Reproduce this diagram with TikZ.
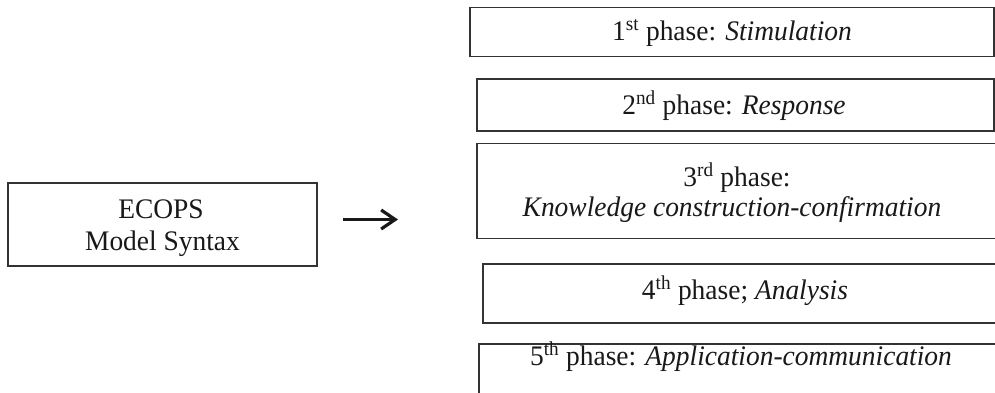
\documentclass[tikz,border=0pt]{standalone}
\usepackage{fontspec}
\setmainfont{Liberation Serif}[FakeStretch=0.97]
\usetikzlibrary{arrows.meta}
\tikzset{
  box/.style={draw=black!80, line width=1.4pt, rectangle, inner sep=0pt, outer sep=0pt},
  lbl/.style={inner sep=0pt, anchor=base, font=\fontsize{28.3}{33}\selectfont, text=black!90},
  arr/.style={line width=3.2pt, black!90, -{Straight Barb[length=14pt,width=19pt,line width=3.2pt]}}
}
\begin{document}
\begin{tikzpicture}[x=1pt,y=-1pt]
\useasboundingbox (0,0) rectangle (995,392);
\clip (0,0) rectangle (995,392);
\fill[white] (0,0) rectangle (995,392);
% boxes
\node[box, minimum width=309, minimum height=83] (ecops) at (162.5,224.5) {};
\node[box, minimum width=524, minimum height=49] (p1) at (732,32) {};
\node[box, minimum width=517, minimum height=52] (p2) at (735.5,105) {};
\node[box, minimum width=528, minimum height=95] (p3) at (741,191) {};
\node[box, minimum width=527, minimum height=59] (p4) at (746.5,293.5) {};
\node[box, minimum width=531, minimum height=62] (p5) at (744.5,375) {};
% labels
\node[lbl] (e1) at (161,218) {ECOPS};
\node[lbl] (e2) at (162.5,250) {Model Syntax};
\node[lbl] (t1) at (732,40) {1\textsuperscript{st} phase: \textit{Stimulation}};
\node[lbl] (t2) at (734,114) {2\textsuperscript{nd} phase: \textit{Response}};
\node[lbl] (t3a) at (737,186) {3\textsuperscript{rd} phase:};
\node[lbl] (t3b) at (732,216) {\textit{Knowledge construction-confirmation}};
\node[lbl] (t4) at (745,299) {4\textsuperscript{th} phase; \textit{Analysis}};
\node[lbl] (t5) at (741,365) {5\textsuperscript{th} phase: \textit{Application-communication}};
% arrow
\coordinate (a1) at (343,219.5);
\coordinate (a2) at (398,219.5);
\draw[arr] (a1) -- (a2);
\end{tikzpicture}
\end{document}
